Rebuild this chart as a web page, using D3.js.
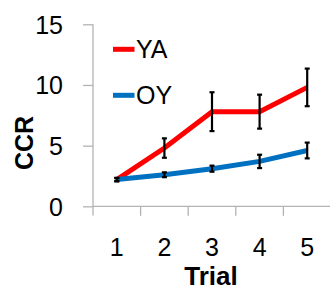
<!DOCTYPE html>
<html><head><meta charset="utf-8">
<script src="https://cdn.jsdelivr.net/npm/d3@7"></script>
<style>body{margin:0;background:#fff}svg{display:block}</style>
</head><body><svg id="c" width="330" height="288"></svg>
<script>
const trials = ["1","2","3","4","5"];
const yaMean = [2.2, 4.8, 7.8, 7.8, 9.8];
const yaErr  = [0.15, 0.8, 1.6, 1.4, 1.55];
const oyMean = [2.2, 2.6, 3.1, 3.7, 4.6];
const oyErr  = [0.12, 0.2, 0.25, 0.55, 0.65];
const yTicks = [0, 5, 10, 15];
const series = [
  {name:"YA", mean: yaMean, err: yaErr, color:"#ff0000"},
  {name:"OY", mean: oyMean, err: oyErr, color:"#0070c0"}
];

const svg = d3.select("#c");
const font = "'Liberation Sans', Arial, sans-serif";
const x = d3.scaleBand().domain(trials).range([93, 331]).padding(0);
const y = d3.scaleLinear().domain([0, 15]).range([206.3, 24.3]);
const axisColor = "#b3b3b3";

// y axis
const ya = svg.append("g").attr("transform","translate(93,0)")
  .call(d3.axisLeft(y).tickValues(yTicks).tickSize(10).tickPadding(20));
ya.select(".domain").attr("stroke", axisColor).attr("stroke-width",1.3).attr("d","M0,24.3V215.5");
ya.selectAll(".tick line").attr("stroke", axisColor).attr("stroke-width",1.3);
ya.selectAll(".tick text").attr("font-family",font).attr("font-size",25).attr("fill","#000").attr("dy","0.36em");

// x axis
const xa = svg.append("g").attr("transform","translate(0,206.3)")
  .call(d3.axisBottom(x).tickSize(0).tickPadding(32));
xa.select(".domain").attr("stroke", axisColor).attr("stroke-width",1.3).attr("d","M93,0H331");
xa.selectAll(".tick text").attr("font-family",font).attr("font-size",25).attr("fill","#000");
const bounds = trials.map(t => x(t)).slice(1);
xa.selectAll(".bt").data(bounds).enter().append("line")
  .attr("x1", d=>d).attr("x2", d=>d).attr("y1",0).attr("y2",9.5)
  .attr("stroke", axisColor).attr("stroke-width",1.3);

const cx = t => x(t) + x.bandwidth()/2;
const line = d3.line().x((d,i)=>cx(trials[i])).y(d=>y(d));

series.forEach(s => {
  svg.append("path").attr("d", line(s.mean)).attr("fill","none")
    .attr("stroke", s.color).attr("stroke-width",5).attr("stroke-linejoin","miter");
});
series.forEach(s => {
  const g = svg.append("g");
  s.mean.forEach((m,i) => {
    const xx = cx(trials[i]);
    const y1 = y(m + s.err[i]), y2 = y(m - s.err[i]);
    g.append("line").attr("x1",xx).attr("x2",xx).attr("y1",y1).attr("y2",y2)
      .attr("stroke","#000").attr("stroke-width",2.2);
    [y1,y2].forEach(yy => g.append("line").attr("x1",xx-2.5).attr("x2",xx+2.5)
      .attr("y1",yy).attr("y2",yy).attr("stroke","#000").attr("stroke-width",2.2));
  });
});

// legend
const legY = [49.3, 95.3];
series.forEach((s,i) => {
  svg.append("line").attr("x1",113).attr("x2",134.5).attr("y1",legY[i]).attr("y2",legY[i])
    .attr("stroke", s.color).attr("stroke-width",5);
  svg.append("text").attr("x",136).attr("y",legY[i]).attr("dy","0.36em")
    .attr("font-family",font).attr("font-size",25).attr("fill","#000").text(s.name);
});

// titles
svg.append("text").attr("transform","translate(33,143) rotate(-90)").attr("text-anchor","middle")
  .attr("font-family",font).attr("font-size",25).attr("font-weight","bold").text("CCR");
svg.append("text").attr("x",211).attr("y",285).attr("text-anchor","middle")
  .attr("font-family",font).attr("font-size",26).attr("font-weight","bold").text("Trial");
</script></body></html>
